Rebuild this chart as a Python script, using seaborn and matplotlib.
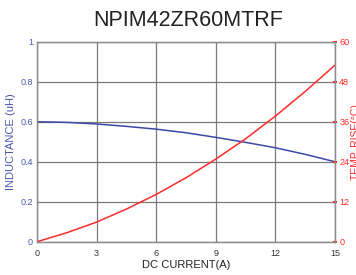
import numpy as np
import matplotlib
matplotlib.use('Agg')
import matplotlib.pyplot as plt
import seaborn as sns
import pandas as pd

# Values
current = [0, 1.5, 3, 4.5, 6, 7.5, 9, 10.5, 12, 13.5, 15]
inductance = [0.600, 0.597, 0.589, 0.577, 0.563, 0.545, 0.522, 0.497, 0.470, 0.437, 0.400]
temp_rise = [0, 2.7, 5.9, 9.8, 14.2, 19.2, 24.8, 30.9, 37.7, 45.1, 53.0]

x_ticks = [0, 3, 6, 9, 12, 15]
l_ticks = [0, 0.2, 0.4, 0.6, 0.8, 1]
l_labels = ['0', '0.2', '0.4', '0.6', '0.8', '1']
r_ticks = [0, 12, 24, 36, 48, 60]

df = pd.DataFrame({'current': current, 'inductance': inductance, 'temp': temp_rise})

sns.set_style('white')
plt.rcParams['font.family'] = ['Liberation Sans', 'DejaVu Sans']

blue = '#3b48a6'
red = '#ff2b2b'
grid_c = '#7a7a7a'

fig = plt.figure(figsize=(3.56, 2.75), dpi=100)
ax = fig.add_axes([0.104, 0.121, 0.837, 0.727])
ax2 = ax.twinx()

sns.lineplot(data=df, x='current', y='inductance', ax=ax, color=blue, linewidth=1.1)
sns.lineplot(data=df, x='current', y='temp', ax=ax2, color=red, linewidth=1.1)

ax.set_xlim(0, 15)
ax.set_ylim(0, 1)
ax2.set_ylim(0, 60)
ax.set_xticks(x_ticks)
ax.set_yticks(l_ticks)
ax.set_yticklabels(l_labels)
ax2.set_yticks(r_ticks)

ax.grid(True, color=grid_c, linewidth=0.9)
ax.set_axisbelow(True)
for a in (ax, ax2):
    for s in a.spines.values():
        s.set_color('#8c8c8c')
        s.set_linewidth(0.9)

ax.tick_params(axis='x', labelsize=6.5, colors='#333333', length=2, width=0.8, pad=3)
ax.tick_params(axis='y', labelsize=6.5, labelcolor='#4a55b0', length=0, pad=3)
ax2.tick_params(axis='y', labelsize=6.5, labelcolor=red, color=red, length=3, width=1.5,
                direction='inout', pad=1.5)

ax.set_xlabel('DC CURRENT(A)', fontsize=8, color='#222222', labelpad=2)
ax.set_ylabel('INDUCTANCE (uH)', fontsize=8, color='#4a55b0', labelpad=3)
ax2.set_ylabel('TEMP. RISE(°C)', fontsize=7.5, color=red, rotation=90)
ax2.yaxis.set_label_coords(1.055, 0.5)

fig.suptitle('NPIM42ZR60MTRF', x=0.53, y=0.965, fontsize=15.5, color='#222222')

fig.savefig('out.png', dpi=100)
